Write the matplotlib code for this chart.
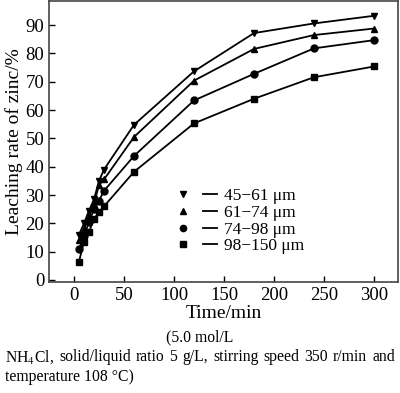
import numpy as np
import matplotlib
matplotlib.use("Agg")
import matplotlib.pyplot as plt
from matplotlib.lines import Line2D
from matplotlib.legend_handler import HandlerTuple

plt.rcParams['font.family'] = ['Liberation Serif', 'DejaVu Serif']
plt.rcParams['mathtext.fontset'] = 'stix'

time = [5, 10, 15, 20, 25, 30, 60, 120, 180, 240, 300]
sizes = ['45\u221261 \u03bcm', '61\u221274 \u03bcm', '74\u221298 \u03bcm', '98\u2212150 \u03bcm']
markers = ['v', '^', 'o', 's']
rate_45_61 = [16, 20, 24.5, 28.5, 35, 39, 54.8, 73.7, 87.2, 90.6, 93.3]
rate_61_74 = [14, 18, 22.5, 27, 33.5, 35.5, 50.5, 70.4, 81.6, 86.5, 88.8]
rate_74_98 = [10.8, 15.5, 20.5, 25, 28, 31.5, 43.8, 63.4, 72.8, 81.8, 84.7]
rate_98_150 = [6.5, 13.5, 17, 21.5, 24, 26, 38.2, 55.3, 64, 71.6, 75.4]
rates = [rate_45_61, rate_61_74, rate_74_98, rate_98_150]

fig = plt.figure(figsize=(4.0, 3.93), dpi=100)
ax = fig.add_axes([0.1225, 0.2825, 0.8725, 0.7155])

handles = []
for r, m in zip(rates, markers):
    ax.plot(time, r, color='black', lw=1.3, marker=m, ms=5)
    handles.append((Line2D([], [], ls='none', marker=m, color='black', ms=4.5),
                    Line2D([], [], color='black', lw=1.3)))

ax.set_xlim(-25, 324)
ax.set_ylim(-0.7, 98.6)
ax.set_xticks([0, 50, 100, 150, 200, 250, 300])
ax.set_yticks(range(0, 91, 10))
ax.tick_params(direction='in', length=4, width=1, labelsize=13.5)
for s in ax.spines.values():
    s.set_color('#444444')
    s.set_linewidth(1.2)
ax.set_xlabel('Time/min', fontsize=14, labelpad=1)
ax.set_ylabel('Leaching rate of zinc/%', fontsize=14, labelpad=2)

ax.legend(handles, sizes, handler_map={tuple: HandlerTuple(ndivide=None, pad=0.7)},
          loc='upper left', bbox_to_anchor=(0.338, 0.364), frameon=False, fontsize=12.5,
          handlelength=2.4, handletextpad=0.4, labelspacing=0.03, borderpad=0)

# caption
fs = 11.3
fig.text(0.5, 1 - 337 / 393, '(5.0 mol/L', ha='center', va='center', fontsize=fs)
words = ['NH$_4$Cl,', 'solid/liquid', 'ratio', '5', 'g/L,', 'stirring', 'speed',
         '350', 'r/min', 'and']
fig.canvas.draw()
renderer = fig.canvas.get_renderer()
arts = [fig.text(0, 1 - 357 / 393, w, ha='left', va='center', fontsize=fs) for w in words]
widths = [a.get_window_extent(renderer).width / 400 for a in arts]
x0, x1 = 5 / 400, 395 / 400
gap = (x1 - x0 - sum(widths)) / (len(words) - 1)
x = x0
for a, w in zip(arts, widths):
    a.set_x(x)
    x += w + gap
fig.text(x0, 1 - 377 / 393, 'temperature 108 \u00b0C)', ha='left', va='center', fontsize=fs)

fig.savefig('out.png', dpi=100)
